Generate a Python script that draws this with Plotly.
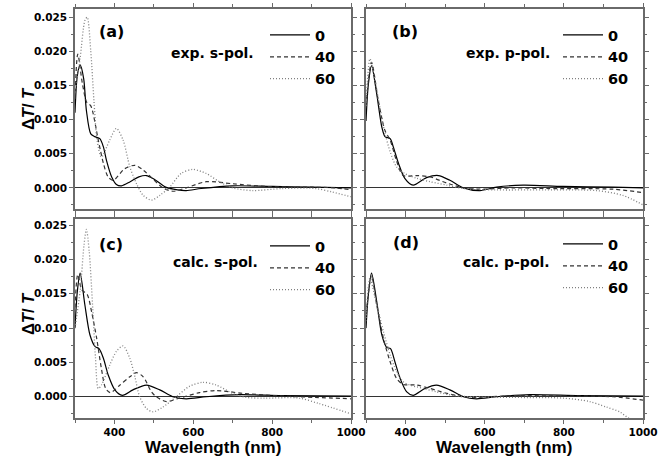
import plotly.graph_objects as go

# ---------------- data ----------------
angles = ["0", "40", "60"]
panel_labels = ["(a)", "(b)", "(c)", "(d)"]
panel_tags = ["exp. s-pol.", "exp. p-pol.", "calc. s-pol.", "calc. p-pol."]
x_title = "Wavelength (nm)"
y_title = "Δ<i>T</i>/ <i>T</i>"

# (a) exp. s-pol.
wl_a0 = [300, 306, 313, 322, 329, 340, 350, 363, 372, 380, 393, 405, 418, 440, 462, 481, 500, 530, 560, 582, 620, 700, 800, 900, 1000]
dt_a0 = [0.0110, 0.0165, 0.0180, 0.0160, 0.0113, 0.0079, 0.0075, 0.0072, 0.0060, 0.0040, 0.0016, 0.0005, 0.0003, 0.0009, 0.0016, 0.0018, 0.0013, 0.0001, -0.0003, -0.0004, -0.0001, 0.0003, 0.0002, 0.0001, 0.0000]
wl_a40 = [300, 307, 319, 330, 340, 359, 372, 384, 397, 426, 452, 473, 523, 548, 582, 633, 700, 784, 900, 960, 1000]
dt_a40 = [0.0130, 0.0196, 0.0152, 0.0125, 0.0120, 0.0070, 0.0036, 0.0016, 0.0011, 0.0028, 0.0033, 0.0026, 0.0000, -0.0005, 0.0000, 0.0009, 0.0006, 0.0002, 0.0001, 0.0000, -0.0003]
wl_a60 = [300, 313, 325, 331, 340, 348, 356, 367, 388, 405, 422, 439, 456, 473, 494, 515, 540, 569, 599, 633, 666, 700, 750, 826, 910, 952, 1000]
dt_a60 = [0.0140, 0.0190, 0.0245, 0.0250, 0.0200, 0.0128, 0.0070, 0.0045, 0.0070, 0.0087, 0.0070, 0.0031, 0.0006, -0.0011, -0.0018, -0.0011, 0.0001, 0.0021, 0.0027, 0.0021, 0.0009, 0.0000, -0.0004, -0.0001, -0.0001, -0.0006, -0.0013]

# (b) exp. p-pol.
wl_b0 = [300, 306, 314, 327, 340, 348, 361, 369, 382, 398, 419, 453, 483, 512, 546, 588, 630, 697, 798, 924, 1000]
dt_b0 = [0.0098, 0.0152, 0.0179, 0.0138, 0.0089, 0.0075, 0.0072, 0.0060, 0.0036, 0.0014, 0.0004, 0.0015, 0.0018, 0.0011, 0.0000, -0.0004, 0.0001, 0.0004, 0.0002, 0.0001, 0.0000]
wl_b40 = [300, 314, 331, 348, 361, 377, 394, 428, 462, 504, 546, 588, 672, 756, 924, 1000]
dt_b40 = [0.0120, 0.0184, 0.0128, 0.0084, 0.0070, 0.0040, 0.0018, 0.0018, 0.0016, 0.0007, 0.0000, -0.0002, 0.0000, -0.0001, -0.0002, -0.0007]
wl_b60 = [300, 310, 323, 335, 348, 361, 377, 398, 428, 462, 504, 546, 630, 756, 882, 949, 1000]
dt_b60 = [0.0120, 0.0189, 0.0157, 0.0118, 0.0080, 0.0053, 0.0031, 0.0021, 0.0014, 0.0009, 0.0004, -0.0001, -0.0003, -0.0003, -0.0004, -0.0011, -0.0025]

# (c) calc. s-pol.
wl_c0 = [300, 306, 313, 325, 338, 351, 361, 372, 384, 401, 420, 447, 481, 515, 548, 582, 633, 717, 826, 1000]
dt_c0 = [0.0100, 0.0154, 0.0180, 0.0134, 0.0090, 0.0073, 0.0070, 0.0056, 0.0032, 0.0010, 0.0002, 0.0010, 0.0017, 0.0010, 0.0000, -0.0003, 0.0000, 0.0003, 0.00015, 0.0001]
wl_c40 = [300, 307, 317, 331, 342, 355, 367, 378, 390, 414, 439, 456, 473, 494, 506, 532, 565, 616, 658, 725, 826, 910, 1000]
dt_c40 = [0.0130, 0.0178, 0.0156, 0.0149, 0.0124, 0.0085, 0.0041, 0.0012, 0.0006, 0.0017, 0.0029, 0.0035, 0.0029, 0.0007, 0.0000, -0.0007, -0.0002, 0.0006, 0.0009, 0.0005, 0.0001, -0.0001, -0.0003]
wl_c60 = [300, 313, 323, 329, 336, 345, 352, 359, 367, 388, 405, 422, 439, 452, 464, 481, 498, 523, 557, 590, 624, 658, 700, 734, 784, 868, 919, 1000]
dt_c60 = [0.0100, 0.0154, 0.0222, 0.0244, 0.0212, 0.0129, 0.0056, 0.0012, 0.0017, 0.0046, 0.0066, 0.0074, 0.0056, 0.0029, 0.0000, -0.0017, -0.0022, -0.0015, 0.0000, 0.0015, 0.0021, 0.0017, 0.0005, -0.0001, -0.0002, -0.0002, -0.0010, -0.0025]

# (d) calc. p-pol.
wl_d0 = [300, 306, 314, 327, 340, 352, 362, 373, 386, 403, 419, 449, 478, 512, 546, 579, 630, 714, 840, 1000]
dt_d0 = [0.0100, 0.0149, 0.0180, 0.0139, 0.0090, 0.0072, 0.0070, 0.0051, 0.0027, 0.0007, 0.0002, 0.0012, 0.0017, 0.0010, 0.0000, -0.0003, 0.0000, 0.0003, 0.00015, 0.0001]
wl_d40 = [300, 314, 327, 344, 361, 377, 394, 428, 462, 504, 546, 579, 672, 798, 924, 1000]
dt_d40 = [0.0120, 0.0176, 0.0134, 0.0085, 0.0051, 0.0027, 0.0018, 0.0017, 0.0012, 0.0005, 0.0000, -0.0001, 0.00015, 0.0001, 0.0000, -0.0005]
wl_d60 = [300, 310, 323, 344, 361, 377, 394, 411, 445, 478, 520, 562, 672, 798, 865, 907, 941, 958, 1000]
dt_d60 = [0.0110, 0.0173, 0.0144, 0.0095, 0.0061, 0.0037, 0.0022, 0.0017, 0.0012, 0.0007, 0.0002, 0.0000, -0.0001, -0.0002, -0.0007, -0.0015, -0.0022, -0.0029, -0.0045]

series = [
    [(wl_a0, dt_a0), (wl_a40, dt_a40), (wl_a60, dt_a60)],
    [(wl_b0, dt_b0), (wl_b40, dt_b40), (wl_b60, dt_b60)],
    [(wl_c0, dt_c0), (wl_c40, dt_c40), (wl_c60, dt_c60)],
    [(wl_d0, dt_d0), (wl_d40, dt_d40), (wl_d60, dt_d60)],
]

# ---------------- styling / layout ----------------
W, H = 668, 461
FONT_W = "DejaVu Sans, Verdana, sans-serif"      # wide glyphs (ticks, legend, notes)
FONT_T = "Liberation Sans, Arial, sans-serif"    # axis titles
FRAME = "#6a6a6a"

def px_x(p):
    return p / W

def px_y(p):
    return 1 - p / H

x_domains = [[px_x(75), px_x(351)], [px_x(366), px_x(643)]]
y_domains = [[px_y(209), px_y(9)], [px_y(418), px_y(219)]]
y_ranges = [[-0.0031, 0.0262], [-0.0031, 0.0259]]

line_styles = [
    dict(color="black", width=1.2, dash="solid"),
    dict(color="#333333", width=1.2, dash="4px,3px"),
    dict(color="#808080", width=1.3, dash="1px,2px"),
]

fig = go.Figure()
legend_names = ["legend", "legend2", "legend3", "legend4"]

for i in range(4):
    sfx = "" if i == 0 else str(i + 1)
    for j, (wl, dt) in enumerate(series[i]):
        fig.add_trace(go.Scatter(
            x=wl, y=dt, mode="lines", name=angles[j],
            line=dict(shape="spline", smoothing=0.8, **line_styles[j]),
            xaxis="x" + sfx, yaxis="y" + sfx,
            legend=legend_names[i], showlegend=True,
        ))

layout = dict(
    template="none",
    width=W, height=H, autosize=False,
    margin=dict(l=0, r=0, t=0, b=0, autoexpand=False),
    paper_bgcolor="white", plot_bgcolor="white",
    font=dict(family=FONT_W, color="black"),
)

for i in range(4):
    r, c = divmod(i, 2)
    sfx = "" if i == 0 else str(i + 1)
    common = dict(
        showline=True, linecolor=FRAME, linewidth=1.5, mirror="ticks",
        ticks="outside", ticklen=4, tickwidth=1, tickcolor=FRAME,
        showgrid=False, automargin=False,
        tickfont=dict(family=FONT_W, size=10.5, color="black", weight="bold"),
    )
    layout["xaxis" + sfx] = dict(
        common, domain=x_domains[c], anchor="y" + sfx, range=[300, 1000],
        tick0=0, dtick=200, zeroline=False,
        minor=dict(dtick=100, tick0=0, ticks="outside", ticklen=3, tickcolor=FRAME, showgrid=False),
        showticklabels=(r == 1),
    )
    layout["yaxis" + sfx] = dict(
        common, domain=y_domains[r], anchor="x" + sfx, range=y_ranges[r],
        tick0=0, dtick=0.005, tickformat=".3f",
        zeroline=True, zerolinecolor="#333333", zerolinewidth=1,
        minor=dict(dtick=0.0025, tick0=0, ticks="outside", ticklen=2, tickcolor=FRAME, showgrid=False),
        showticklabels=(c == 0),
    )

legend_pos = [(265, 19), (558, 19), (265, 230), (558, 228)]
for i, name in enumerate(legend_names):
    lx, ly = legend_pos[i]
    layout[name] = dict(
        x=px_x(lx), y=px_y(ly), xanchor="left", yanchor="top",
        bgcolor="rgba(0,0,0,0)", borderwidth=0,
        font=dict(family=FONT_W, size=14.5, color="black", weight="bold"),
        itemwidth=40, tracegroupgap=0,
    )

annotations = []
label_pos = [(111, 32), (405, 32), (111, 244), (406, 243)]
tag_pos = [(256, 53), (552, 53), (260, 262), (552, 262)]
for i in range(4):
    annotations.append(dict(
        text="<b>" + panel_labels[i] + "</b>", x=px_x(label_pos[i][0]), y=px_y(label_pos[i][1]),
        xref="paper", yref="paper", showarrow=False, xanchor="center", yanchor="middle",
        font=dict(family=FONT_W, size=16, color="black"),
    ))
    annotations.append(dict(
        text="<b>" + panel_tags[i] + "</b>", x=px_x(tag_pos[i][0]), y=px_y(tag_pos[i][1]),
        xref="paper", yref="paper", showarrow=False, xanchor="right", yanchor="middle",
        font=dict(family=FONT_W, size=14, color="black"),
    ))
for c in range(2):
    annotations.append(dict(
        text="<b>" + x_title + "</b>", x=(x_domains[c][0] + x_domains[c][1]) / 2, y=px_y(447),
        xref="paper", yref="paper", showarrow=False, xanchor="center", yanchor="middle",
        font=dict(family=FONT_T, size=17, color="black"),
    ))
for r, yc in enumerate([109, 314]):
    annotations.append(dict(
        text="<b>" + y_title + "</b>", x=px_x(28), y=px_y(yc),
        xref="paper", yref="paper", showarrow=False, xanchor="center", yanchor="middle",
        textangle=-90, font=dict(family=FONT_T, size=16.5, color="black"),
    ))
layout["annotations"] = annotations

fig.update_layout(**layout)
fig.write_html(
    "out.html",
    config={"displayModeBar": False},
    post_script="document.body.style.margin='0px';",
)
